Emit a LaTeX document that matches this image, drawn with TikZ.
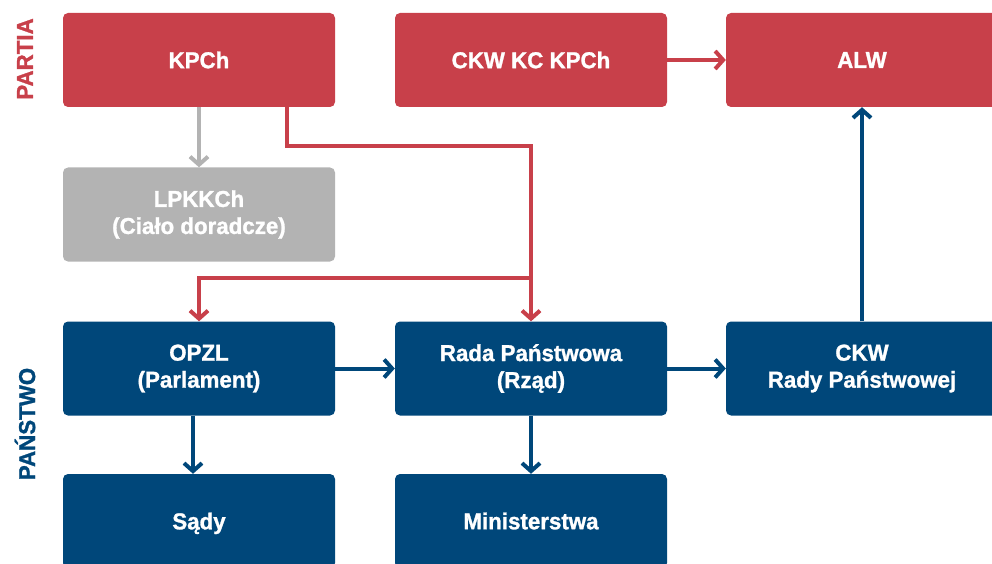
\documentclass[tikz,border=0pt]{standalone}
\usepackage{fontspec}
\setmainfont{Liberation Sans}[FakeStretch=0.97, BoldFeatures={FakeBold=1.2}]
\usetikzlibrary{arrows.meta}
\definecolor{pred}{HTML}{C8404A}
\definecolor{pblue}{HTML}{00477A}
\definecolor{pgray}{HTML}{B3B3B3}
\tikzset{
  box/.style={rounded corners=5pt, minimum width=272pt, minimum height=94pt, inner sep=0pt,
    text=white, font=\fontsize{23}{27}\selectfont\bfseries, align=center},
  redbox/.style={box, fill=pred},
  bluebox/.style={box, fill=pblue},
  graybox/.style={box, fill=pgray},
  conn/.style={line width=4pt, -{Straight Barb[length=8pt,width=18pt,line width=4pt]}},
  sidelabel/.style={rotate=90, font=\fontsize{23}{27}\selectfont\bfseries},
}
\begin{document}
\begin{tikzpicture}[x=1pt,y=-1pt]
\useasboundingbox (0,0) rectangle (992,564);
\clip (0,0) rectangle (992,564);
\node[redbox] (kpch) at (199,60) {KPCh};
\node[redbox] (ckwkc) at (531,60) {CKW KC KPCh};
\node[redbox] (alw) at (862,60) {ALW};
\node[graybox] (lpk) at (199,214.5) {LPKKCh\\(Ciało doradcze)};
\node[bluebox] (opzl) at (199,368.5) {OPZL\\(Parlament)};
\node[bluebox] (rada) at (531,368.5) {Rada Państwowa\\(Rząd)};
\node[bluebox] (ckwr) at (862,368.5) {CKW\\Rady Państwowej};
\node[bluebox, text depth=0pt] (sady) at (199,521) {Sądy};
\node[bluebox] (min) at (531,521) {Ministerstwa};
\node[sidelabel, text=pred] (partia) at (25,59) {PARTIA};
\node[sidelabel, text=pblue] (panstwo) at (25,424) {PAŃSTWO};
% connectors
\draw[conn, draw=pgray] (kpch.south) -- (lpk.north);
\coordinate (j1) at (531,146);
\coordinate (j2) at (531,278);
\draw[conn, draw=pred] ([xshift=88pt]kpch.south) |- (j1) -- (rada.north);
\draw[conn, draw=pred] (j2) -| (opzl.north);
\draw[conn, draw=pred] (ckwkc.east) -- (alw.west);
\draw[conn, draw=pblue] (opzl.east) -- (rada.west);
\draw[conn, draw=pblue] (rada.east) -- (ckwr.west);
\draw[conn, draw=pblue] ([xshift=-6pt]opzl.south) -- ([xshift=-6pt]sady.north);
\draw[conn, draw=pblue] (rada.south) -- (min.north);
\draw[conn, draw=pblue] (ckwr.north) -- (alw.south);
\end{tikzpicture}
\end{document}
